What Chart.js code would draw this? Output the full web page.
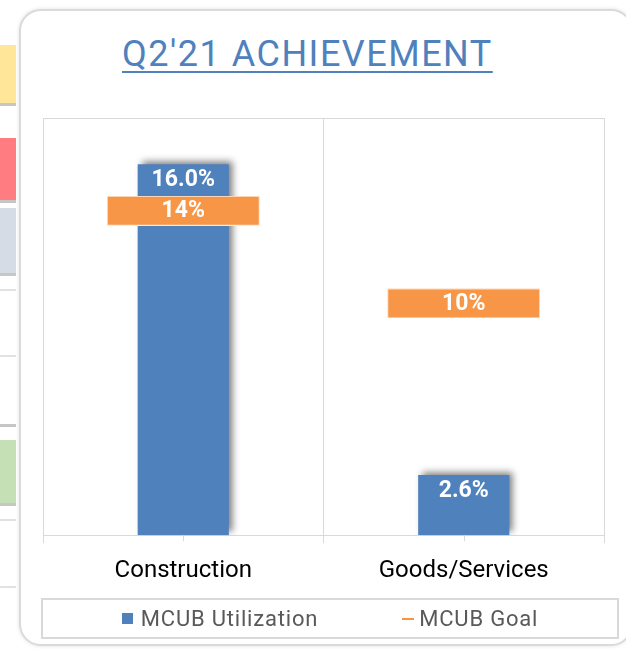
<!DOCTYPE html>
<html>
<head>
<meta charset="utf-8">
<script src="https://cdn.jsdelivr.net/npm/chart.js@4.4.1/dist/chart.umd.min.js"></script>
<style>
  html, body { margin: 0; padding: 0; background: #fff; }
  body { width: 626px; height: 649px; position: relative; overflow: hidden; font-family: Roboto, sans-serif; }
  .strip { position: absolute; left: 0; width: 16px; border-bottom: 3px solid #c6c6c6; }
  .rule { position: absolute; left: 0; width: 16px; height: 2px; background: #e2e2e2; }
  #card { position: absolute; left: 19px; top: 9px; width: 614px; height: 637px; box-sizing: border-box;
          border: 2px solid #dadada; border-radius: 22px; background: #fff; box-shadow: 0 0 4px rgba(0,0,0,0.12); }
  #title { position: absolute; left: 122px; top: 33px; font-size: 36px; color: #4F81BD; letter-spacing: 1.5px;
           white-space: nowrap; text-decoration: underline; text-decoration-thickness: 2px; text-underline-offset: 5px; }
  canvas { position: absolute; left: 0; top: 0; }
  #legend { position: absolute; left: 41px; top: 598px; width: 578px; height: 41px; box-sizing: border-box;
            border: 2px solid #d9d9d9; display: flex; align-items: center; justify-content: center; gap: 84px;
            font-size: 22px; letter-spacing: 0.8px; color: #595959; }
  #legend .item { display: flex; align-items: center; }
  #legend .box { width: 11px; height: 11px; margin-right: 8px; }
  #legend .line { width: 12px; height: 2px; margin-right: 5px; }
</style>
</head>
<body>
<div class="strip" style="top:45px;height:58px;background:#FFE699"></div>
<div class="strip" style="top:138px;height:62px;background:#FF7C80"></div>
<div class="strip" style="top:208px;height:65px;background:#D6DCE5"></div>
<div class="rule" style="top:289px"></div>
<div class="rule" style="top:355px"></div>
<div class="strip" style="top:424px;height:0;border-bottom-width:3px"></div>
<div class="strip" style="top:440px;height:63px;background:#C5E0B4"></div>
<div class="rule" style="top:519px"></div>
<div class="rule" style="top:586px"></div>

<div id="card"></div>
<div id="title">Q2'21 ACHIEVEMENT</div>
<canvas id="mcubChart" width="626" height="649"></canvas>
<div id="legend"></div>

<script>
// data
var categories = ['Construction', 'Goods/Services'];
var utilization = [16.0, 2.6];
var goal = [14, 10];
var seriesNames = ['MCUB Utilization', 'MCUB Goal'];
var yMax = 18;

var blue = '#4F81BD';
var orange = '#F79646';

// goal marker: wide orange label box
var marker = document.createElement('canvas');
marker.width = 153;
marker.height = 30;
var mctx = marker.getContext('2d');
mctx.fillStyle = orange;
mctx.fillRect(0, 0, marker.width, marker.height);
mctx.strokeStyle = 'rgba(255,255,255,0.8)';
mctx.strokeRect(0.5, 0.5, marker.width - 1, marker.height - 1);

// soft shadow behind the bars (mostly to the right and above)
var barShadow = {
    id: 'barShadow',
    beforeDatasetDraw: function(chart, args) {
        if (args.index !== 0) return;
        var ctx = chart.ctx;
        ctx.save();
        ctx.shadowColor = 'rgba(0,0,0,0.5)';
        ctx.shadowBlur = 7;
        ctx.shadowOffsetX = 4;
        ctx.shadowOffsetY = -3;
    },
    afterDatasetDraw: function(chart, args) {
        if (args.index === 0) chart.ctx.restore();
    }
};

// top edge of plot area + small tick marks at category centres
var plotFrame = {
    id: 'plotFrame',
    afterDraw: function(chart) {
        var ctx = chart.ctx, a = chart.chartArea, x = chart.scales.x;
        ctx.save();
        ctx.strokeStyle = '#d9d9d9';
        ctx.lineWidth = 1;
        ctx.beginPath();
        ctx.moveTo(a.left, a.top + 0.5);
        ctx.lineTo(a.right, a.top + 0.5);
        for (var i = 0; i < categories.length; i++) {
            var px = Math.round(x.getPixelForTick(i)) + 0.5;
            ctx.moveTo(px, a.bottom);
            ctx.lineTo(px, a.bottom + 6);
        }
        ctx.stroke();
        ctx.restore();
    }
};

// white value labels
var valueLabels = {
    id: 'valueLabels',
    afterDatasetsDraw: function(chart) {
        var ctx = chart.ctx;
        ctx.save();
        ctx.fillStyle = '#fff';
        ctx.font = 'bold 23px Roboto';
        ctx.textAlign = 'center';
        ctx.textBaseline = 'middle';
        chart.getDatasetMeta(0).data.forEach(function(el, i) {
            var y = Math.min(el.y + 16, (el.y + el.base) / 2);
            ctx.fillText(utilization[i].toFixed(1) + '%', el.x, y);
        });
        chart.getDatasetMeta(1).data.forEach(function(pt, i) {
            ctx.fillText(goal[i] + '%', pt.x, pt.y + 1);
        });
        ctx.restore();
    }
};

var ctx = document.getElementById('mcubChart').getContext('2d');
var mcubChart = new Chart(ctx, {
    type: 'bar',
    data: {
        labels: categories,
        datasets: [{
            label: seriesNames[0],
            data: utilization,
            backgroundColor: blue,
            borderWidth: 0,
            barPercentage: 0.325,
            categoryPercentage: 1,
            order: 1
        }, {
            type: 'line',
            label: seriesNames[1],
            data: goal,
            showLine: false,
            borderColor: orange,
            backgroundColor: orange,
            pointStyle: marker,
            order: 0
        }]
    },
    options: {
        responsive: false,
        animation: false,
        devicePixelRatio: 1,
        layout: { padding: { top: 118, left: 43, right: 22, bottom: 51 } },
        scales: {
            x: {
                grid: { color: '#d9d9d9', offset: true, tickLength: 8 },
                border: { color: '#d9d9d9' },
                ticks: { color: '#000', font: { family: 'Roboto', size: 24 }, padding: 13 }
            },
            y: { display: false, min: 0, max: yMax }
        },
        plugins: {
            legend: { display: false },
            tooltip: { enabled: false }
        }
    },
    plugins: [barShadow, plotFrame, valueLabels]
});

// legend box under the chart
var legendEl = document.getElementById('legend');
mcubChart.data.datasets.forEach(function(ds, i) {
    var item = document.createElement('div');
    item.className = 'item';
    var icon = document.createElement('span');
    icon.className = i === 0 ? 'box' : 'line';
    icon.style.background = i === 0 ? ds.backgroundColor : ds.borderColor;
    item.appendChild(icon);
    item.appendChild(document.createTextNode(ds.label));
    legendEl.appendChild(item);
});
</script>
</body>
</html>
